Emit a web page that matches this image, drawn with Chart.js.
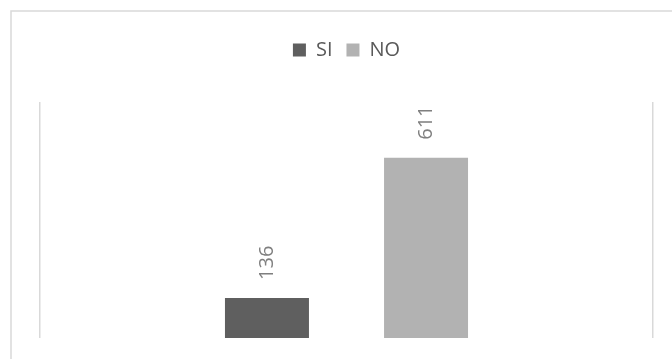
<!DOCTYPE html>
<html>
<head>
<meta charset="utf-8">
<script src="https://cdn.jsdelivr.net/npm/chart.js@4/dist/chart.umd.min.js"></script>
<style>
  html, body { margin: 0; padding: 0; background: #fff; }
  #wrap { width: 672px; height: 359px; position: relative; }
</style>
</head>
<body>
<div id="wrap"><canvas id="myChart" width="672" height="359"></canvas></div>
<script>
var categories = [''];
var siValues = [136];
var noValues = [611];
var yMax = 800;

// frame lines on the left and top edge
var frame = {
  id: 'frame',
  beforeDraw: function(chart) {
    var ctx = chart.ctx;
    ctx.save();
    ctx.strokeStyle = '#d9d9d9';
    ctx.lineWidth = 1.5;
    ctx.beginPath();
    ctx.moveTo(11, chart.height);
    ctx.lineTo(11, 11);
    ctx.lineTo(chart.width, 11);
    ctx.stroke();
    ctx.restore();
  }
};

// extra room under the legend
var legendGap = {
  id: 'legendGap',
  beforeInit: function(chart) {
    var fit = chart.legend.fit;
    chart.legend.fit = function() {
      fit.bind(chart.legend)();
      this.height += 32;
    };
  }
};

// rotated value labels above each bar
var valueLabels = {
  id: 'valueLabels',
  afterDatasetsDraw: function(chart) {
    var ctx = chart.ctx;
    ctx.save();
    ctx.font = '20px "Open Sans"';
    ctx.fillStyle = '#7f7f7f';
    ctx.textAlign = 'left';
    ctx.textBaseline = 'middle';
    chart.data.datasets.forEach(function(ds, i) {
      chart.getDatasetMeta(i).data.forEach(function(bar, j) {
        ctx.save();
        ctx.translate(bar.x, bar.y - 18);
        ctx.rotate(-Math.PI / 2);
        ctx.fillText(String(ds.data[j]), 0, 0);
        ctx.restore();
      });
    });
    ctx.restore();
  }
};

var ctx = document.getElementById('myChart').getContext('2d');
var myChart = new Chart(ctx, {
  type: 'bar',
  data: {
    labels: categories,
    datasets: [{
      label: 'SI',
      data: siValues,
      backgroundColor: '#5f5f5f'
    }, {
      label: 'NO',
      data: noValues,
      backgroundColor: '#b2b2b2'
    }]
  },
  options: {
    responsive: false,
    animation: false,
    layout: { padding: { top: 26, left: 40, right: 19, bottom: 21 } },
    categoryPercentage: 0.519,
    barPercentage: 0.528,
    scales: {
      x: {
        offset: true,
        grid: { offset: true, color: '#d9d9d9', lineWidth: 1.5, drawTicks: false },
        border: { display: false },
        ticks: { display: false }
      },
      y: {
        display: false,
        min: 0,
        max: yMax
      }
    },
    plugins: {
      legend: {
        position: 'top',
        labels: {
          boxWidth: 13,
          boxHeight: 13,
          padding: 14,
          color: '#595959',
          font: { family: '"Open Sans"', size: 20 }
        }
      },
      tooltip: { enabled: false }
    }
  },
  plugins: [frame, legendGap, valueLabels]
});
</script>
</body>
</html>
